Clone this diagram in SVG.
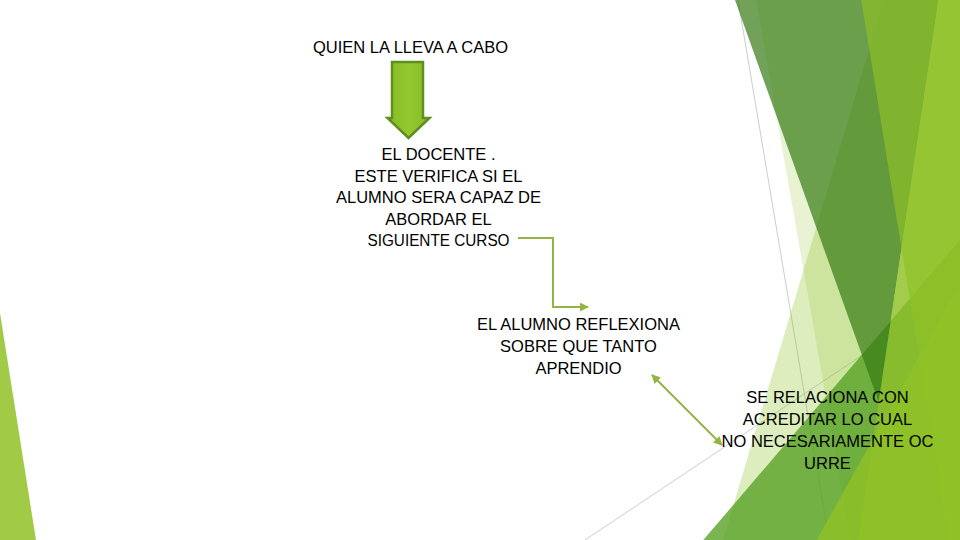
<svg xmlns="http://www.w3.org/2000/svg" width="960" height="540" viewBox="0 0 960 540">
  <defs>
    <style>
      .t { font-family: "Liberation Sans", Arial, sans-serif; font-size: 16.5px; fill: #000; text-anchor: middle; }
      .a1 { fill: #90C226; }
      .thin { stroke: #bfbfbf; stroke-width: 0.8; fill: none; }
      .conn { stroke: #92b544; stroke-width: 2; fill: none; }
    </style>
    <marker id="arr" viewBox="0 0 10 10" refX="9" refY="5" markerWidth="4.5" markerHeight="4.5" orient="auto-start-reverse" markerUnits="strokeWidth">
      <path d="M0,0 L10,5 L0,10 z" fill="#92b544"/>
    </marker>
    <linearGradient id="ag" x1="0" y1="0" x2="1" y2="0">
      <stop offset="0" stop-color="#86bb24"/>
      <stop offset="0.5" stop-color="#94c82f"/>
      <stop offset="1" stop-color="#86bb24"/>
    </linearGradient>
  </defs>
  <rect width="960" height="540" fill="#ffffff"/>

  <g id="background">
    <line class="thin" x1="738" y1="0" x2="829" y2="540"/>
    <line class="thin" x1="585" y1="540" x2="960" y2="290"/>
    <polygon class="a1" fill-opacity="0.3" points="884,0 960,0 960,540 723,540"/>
    <polygon class="a1" fill-opacity="0.2" points="756.2,0 960,0 960,540 850.9,540"/>
    <polygon fill="#54A021" fill-opacity="0.78" points="960,240 703.3,540 960,540"/>
    <polygon fill="#367a12" fill-opacity="0.7" points="735,0 938.5,0 878.7,402"/>
    <polygon class="a1" fill-opacity="0.7" points="938.5,0 960,0 960,540 858.2,540"/>
    <polygon class="a1" fill-opacity="0.65" points="861.3,0 960,0 960,540 948.7,540"/>
    <polygon class="a1" fill-opacity="0.8" points="960,282.7 816.7,540 960,540"/>
    <polygon class="a1" fill-opacity="0.85" points="0,313 0,540 36,540"/>
  </g>

  <g id="connectors">
    <path id="block-arrow" d="M392,62 L423,62 L423,118 L429.5,118 L408.5,138 L387.5,118 L392,118 Z" fill="url(#ag)" stroke="#5f8f1f" stroke-width="2.5" stroke-linejoin="miter"/>
    <polyline class="conn" points="518,238 553,238 553,307 588,307" marker-end="url(#arr)"/>
    <line class="conn" x1="652" y1="375" x2="722" y2="445" marker-start="url(#arr)" marker-end="url(#arr)"/>
  </g>

  <g id="node-quien">
    <text class="t" x="410.5" y="53">QUIEN LA LLEVA A CABO</text>
  </g>
  <g id="node-docente">
    <text class="t" x="438.5" y="160">EL DOCENTE .</text>
    <text class="t" x="438.5" y="181.5">ESTE VERIFICA SI EL</text>
    <text class="t" x="438.5" y="203">ALUMNO SERA CAPAZ DE</text>
    <text class="t" x="438.5" y="224.5">ABORDAR EL</text>
    <text class="t" x="438.5" y="246" textLength="142" lengthAdjust="spacingAndGlyphs">SIGUIENTE CURSO</text>
  </g>
  <g id="node-alumno">
    <text class="t" x="578.5" y="330">EL ALUMNO REFLEXIONA</text>
    <text class="t" x="578.5" y="352">SOBRE QUE TANTO</text>
    <text class="t" x="578.5" y="374">APRENDIO</text>
  </g>
  <g id="node-acreditar">
    <text class="t" x="827.5" y="403">SE RELACIONA CON</text>
    <text class="t" x="827.5" y="425">ACREDITAR LO CUAL</text>
    <text class="t" x="827.5" y="447">NO NECESARIAMENTE OC</text>
    <text class="t" x="827.5" y="469">URRE</text>
  </g>
</svg>
